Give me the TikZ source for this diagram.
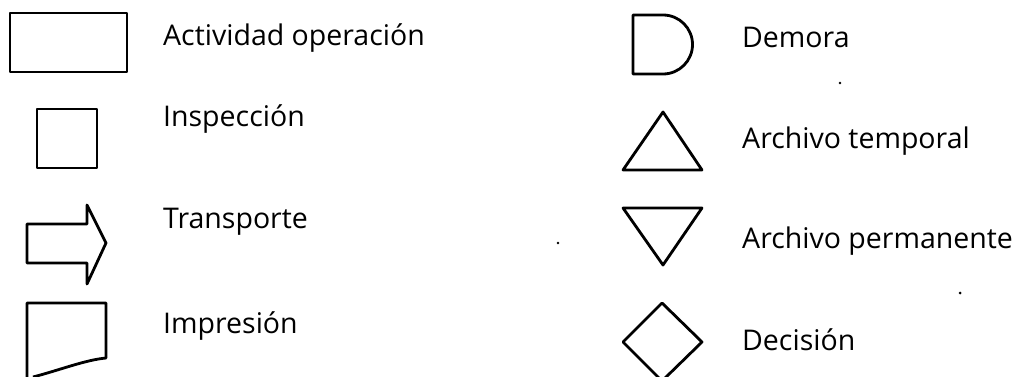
\documentclass[tikz,border=0pt]{standalone}
\usepackage{fontspec}
\setmainfont{Open Sans}
\begin{document}
\begin{tikzpicture}[x=1pt,y=-1pt,
  sym/.style={draw=black,line width=2.8pt,line join=round},
  lbl/.style={anchor=base west,inner sep=0pt,font=\fontsize{28.5}{31}\selectfont},
  speck/.style={fill=black}]
\useasboundingbox (0,0) rectangle (1019,377);
% left column
\draw[sym] (10,13) rectangle (127,72);
\node[lbl] (t1) at (163,46) {Actividad operación};
\draw[sym] (37,109) rectangle (97,168);
\node[lbl] (t2) at (163,126) {Inspección};
\draw[sym] (27,224) -- (87,224) -- (87,205) -- (106,243) -- (87,284) -- (87,263) -- (27,263) -- cycle;
\node[lbl] (t3) at (163,228) {Transporte};
\draw[sym] (27,380) -- (27,303) -- (106,303) -- (106,358) .. controls (85,360) and (60,370) .. (33,377);
\node[lbl] (t4) at (163,333) {Impresión};
% right column
\draw[sym] (663,15) -- (633,15) -- (633,74) -- (663,74) arc[start angle=-90,end angle=90,radius=29.5pt] -- cycle;
\node[lbl] (t5) at (742,48) {Demora};
\draw[sym] (663,112) -- (702,170) -- (623,170) -- cycle;
\node[lbl] (t6) at (742,148) {Archivo temporal};
\draw[sym] (623,208) -- (702,208) -- (663,265) -- cycle;
\node[lbl] (t7) at (742,248) {Archivo permanente};
\draw[sym] (662,303) -- (702,342) -- (662,381) -- (623,342) -- cycle;
\node[lbl] (t8) at (742,350) {Decisión};
% specks
\fill[speck] (840,83) circle (1.3);
\fill[speck] (960,293) circle (1.5);
\fill[speck] (558,243) circle (1.3);
\end{tikzpicture}
\end{document}
